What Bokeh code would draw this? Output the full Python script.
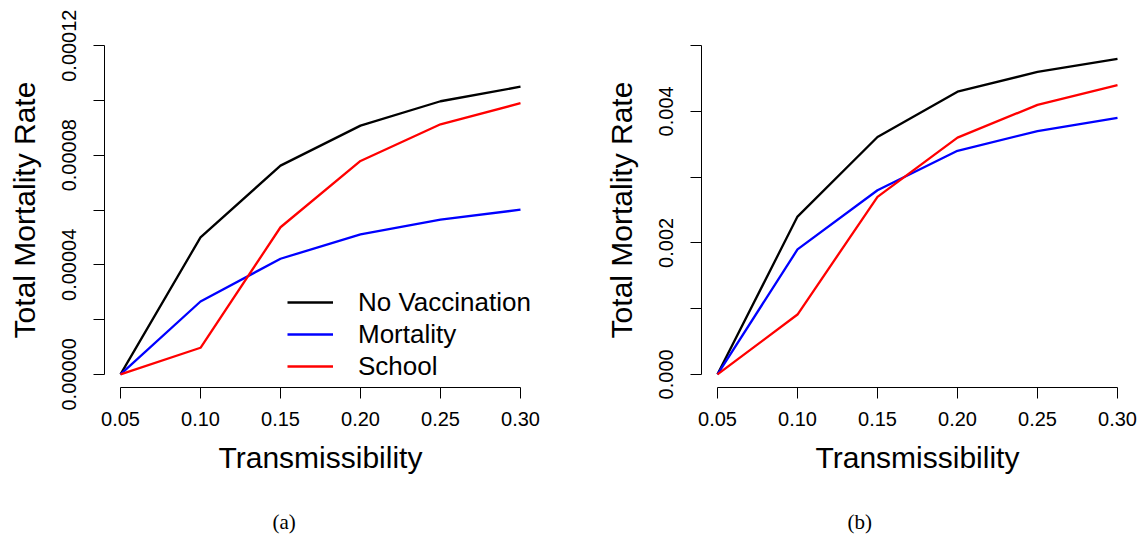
from bokeh.plotting import figure
from bokeh.layouts import row
from bokeh.models import Range1d, FixedTicker, Legend, LegendItem, Title
from bokeh.embed import file_html
from bokeh.resources import INLINE

# ---------------- data ----------------
transmissibility = [0.05, 0.10, 0.15, 0.20, 0.25, 0.30]
series_names = ["No Vaccination", "Mortality", "School"]
series_colors = ["black", "blue", "red"]

# panel (a)
a_no_vacc = [0.0, 5.00e-5, 7.62e-5, 9.08e-5, 9.97e-5, 1.05e-4]
a_mortality = [0.0, 2.66e-5, 4.22e-5, 5.11e-5, 5.65e-5, 6.01e-5]
a_school = [0.0, 0.97e-5, 5.37e-5, 7.79e-5, 9.13e-5, 9.90e-5]

# panel (b)
b_no_vacc = [0.0, 0.00240, 0.00361, 0.00430, 0.00460, 0.00480]
b_mortality = [0.0, 0.00190, 0.00280, 0.00340, 0.00370, 0.00390]
b_school = [0.0, 0.00091, 0.00270, 0.00360, 0.00410, 0.00440]

x_ticks = [0.05, 0.10, 0.15, 0.20, 0.25, 0.30]
x_tick_labels = ["0.05", "0.10", "0.15", "0.20", "0.25", "0.30"]
a_y_ticks = [0.0, 0.00002, 0.00004, 0.00006, 0.00008, 0.0001, 0.00012]
a_y_labels = ["0.00000", "", "0.00004", "", "0.00008", "", "0.00012"]
b_y_ticks = [0.0, 0.001, 0.002, 0.003, 0.004, 0.005]
b_y_labels = ["0.000", "", "0.002", "", "0.004", ""]

x_title = "Transmissibility"
y_title = "Total Mortality Rate"
captions = ["(a)", "(b)"]

FONT = "Liberation Sans"


def make_panel(series, y_ticks, y_labels, y_max, border_left, border_right,
               caption, caption_offset, with_legend):
    pad = 0.04 * y_max
    p = figure(frame_width=432, frame_height=355,
               min_border_left=border_left, min_border_right=border_right,
               min_border_top=32, min_border_bottom=155,
               x_range=Range1d(0.04, 0.31), y_range=Range1d(-pad, y_max + pad),
               output_backend="svg", toolbar_location=None)
    p.outline_line_color = None
    p.xgrid.visible = False
    p.ygrid.visible = False
    p.background_fill_color = "white"
    p.border_fill_color = "white"

    renderers = []
    for ys, col in zip(series, series_colors):
        r = p.line(transmissibility, ys, line_color=col, line_width=2.3)
        renderers.append(r)

    # x axis
    xa = p.xaxis[0]
    xa.ticker = FixedTicker(ticks=x_ticks)
    xa.major_label_overrides = {t: l for t, l in zip(x_ticks, x_tick_labels)}
    xa.bounds = (x_ticks[0], x_ticks[-1])
    xa.axis_label = x_title
    # y axis
    ya = p.yaxis[0]
    ya.ticker = FixedTicker(ticks=y_ticks)
    ya.major_label_overrides = {t: l for t, l in zip(y_ticks, y_labels)}
    ya.bounds = (y_ticks[0], y_ticks[-1])
    ya.axis_label = y_title
    ya.major_label_orientation = "parallel"

    for ax in (xa, ya):
        ax.axis_line_color = "black"
        ax.axis_line_width = 1
        ax.major_tick_line_color = "black"
        ax.major_tick_line_width = 1
        ax.major_tick_out = 11
        ax.major_tick_in = 0
        ax.minor_tick_line_color = None
        ax.major_label_text_font = FONT
        ax.major_label_text_font_size = "20px"
        ax.major_label_text_color = "black"
        ax.axis_label_text_font = FONT
        ax.axis_label_text_font_size = "30px"
        ax.axis_label_text_font_style = "normal"
        ax.axis_label_text_color = "black"
    xa.major_label_standoff = 13
    xa.axis_label_standoff = 12
    ya.major_label_standoff = 17
    ya.axis_label_standoff = 19

    if with_legend:
        items = [LegendItem(label=n, renderers=[r]) for n, r in zip(series_names, renderers)]
        lg = Legend(items=items, location=(183, 5))
        lg.padding = 0
        lg.margin = 0
        lg.spacing = 0
        lg.glyph_width = 46
        lg.glyph_height = 32
        lg.label_height = 32
        lg.label_standoff = 25
        lg.label_text_font = FONT
        lg.label_text_font_size = "26px"
        lg.label_text_color = "black"
        lg.border_line_color = None
        lg.background_fill_alpha = 0
        p.add_layout(lg)

    cap = Title(text=caption, align="left", offset=caption_offset, standoff=63,
                text_font="Liberation Serif", text_font_size="21px",
                text_font_style="normal", text_color="black")
    p.add_layout(cap, "below")
    return p


p1 = make_panel([a_no_vacc, a_mortality, a_school], a_y_ticks, a_y_labels, 0.00012,
                104, 60, captions[0], 168, True)
p2 = make_panel([b_no_vacc, b_mortality, b_school], b_y_ticks, b_y_labels, 0.005,
                105, 6, captions[1], 146, False)

layout = row(p1, p2)
open("out.html", "w").write(file_html(layout, INLINE))
